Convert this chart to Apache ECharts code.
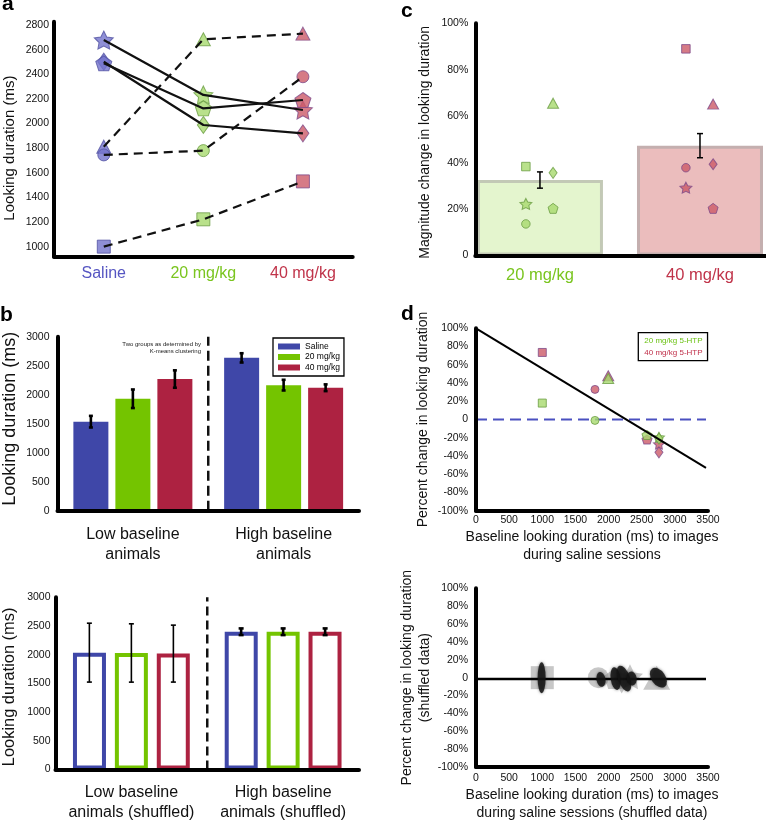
<!DOCTYPE html>
<html><head><meta charset="utf-8">
<script src="https://cdn.jsdelivr.net/npm/echarts@6/dist/echarts.min.js"></script>
<style>html,body{margin:0;padding:0;background:#fff;}#c{width:766px;height:823px;}</style>
</head><body><div id="c"></div>
<script>
const FONT = 'Liberation Sans, Arial, Helvetica, sans-serif';

// ================= DATA =================
const groups = ['Saline', '20 mg/kg', '40 mg/kg'];
const shapes = ['star', 'diamond', 'pentagon', 'triangle', 'circle', 'square'];

// panel a : looking duration (ms) of each animal (by shape)
const aSaline = [2678, 2502, 2489, 1812, 1745, 1000];
const a20     = [2232, 1988, 2123, 2684, 1780, 1222];
const a40     = [2110, 1920, 2191, 2730, 2380, 1530];
const aYTicks = [1000, 1200, 1400, 1600, 1800, 2000, 2200, 2400, 2600, 2800];

// panel c : magnitude change (%)
const cCategories = ['20 mg/kg', '40 mg/kg'];
const cMeans = [32.5, 47.3];
const cSem   = [3.5, 5.2];
const c20 = [22.2, 35.6, 20.3, 65.6, 13.6, 38.3];
const c40 = [29.2, 39.3, 20.3, 65.2, 37.8, 89.0];

// panel b : group means (ms)
const bCategories = ['Low baseline\nanimals', 'High baseline\nanimals'];
const bSaline = [1535, 2635], bSalineErr = [100, 80];
const b20     = [1930, 2165], b20Err     = [160, 92];
const b40     = [2270, 2120], b40Err     = [150, 58];
const bsCategories = ['Low baseline\nanimals (shuffled)', 'High baseline\nanimals (shuffled)'];
const bsSaline = [2036, 2400], bsSalineErr = [513, 58];
const bs20     = [2030, 2400], bs20Err     = [508, 58];
const bs40     = [2019, 2400], bs40Err     = [496, 58];

// panel d : baseline (ms) vs percent change
const dBaseline = [2760, 2760, 2580, 1995, 1795, 1000];
const d20 = [-19.5, -21, -17, 45, -1, 18];
const d40 = [-27, -36, -22, 48, 33, 73.5];
const dFit  = [[0, 100], [3470, -53]];
const dZero = [[0, 0], [3470, 0]];
// panel d (shuffled)
const dsShapes = ['square', 'circle', 'pentagon', 'diamond', 'star', 'triangle'];
const dsShapeX = [1000, 1845, 2097, 2198, 2323, 2726];
const dsShapeY = [0, 0, -1, -2, 1, 0];
const dsBlobX  = [990, 1886, 2107, 2233, 2349, 2751];
const dsBlobY  = [0, -2, -1, -1, -1, 0];
const dsFit = [[0, -1.5], [3470, -1.5]];

// ================= STYLE =================
const COL = {
  fill:   ['#7373cc', '#a8da6e', '#cc5a68'],
  border: ['#5252a3', '#6b9e44', '#7e4b8a'],
  bar:    ['#3f47a8', '#74c400', '#ad2241'],
  label:  ['#5555c2', '#7ac51f', '#c0344a']
};
const STAR = 'path://M0,-10L2.94,-4.05L9.51,-3.09L4.76,1.55L5.88,8.09L0,5L-5.88,8.09L-4.76,1.55L-9.51,-3.09L-2.94,-4.05Z';
const PENT = 'path://M0,-10L9.51,-3.09L5.88,8.09L-5.88,8.09L-9.51,-3.09Z';
const SYMBOL = {star: STAR, diamond: 'diamond', pentagon: PENT, triangle: 'triangle', circle: 'circle', square: 'rect'};
const SIZE_A = {star: [19, 18], diamond: [12, 17], pentagon: [16, 15], triangle: [14, 13], circle: 12, square: 13};
const SIZE_C = {star: [12, 11], diamond: [8, 11], pentagon: [10, 10], triangle: [11, 10], circle: 8.5, square: 8.5};
const SIZE_D = {star: [11, 10], diamond: [8, 11], pentagon: [10, 9], triangle: [11, 10], circle: 8, square: 8};
const SIZE_DS = {square: [23, 23], circle: [21, 21], pentagon: [22, 21], diamond: [16, 28], star: [26, 25], triangle: [27, 24]};
const C_COL_OFFSET = {star: -0.088, circle: -0.088, square: -0.088, triangle: 0.082, diamond: 0.082, pentagon: 0.082};
const A_DASHED = {triangle: true, circle: true, square: true};
const C_BAR_STYLE = [
  {color: '#e4f5ce', borderColor: '#c3c9b6', borderWidth: 3},
  {color: '#ebbdbd', borderColor: '#c4afaf', borderWidth: 3}
];
const BLOB_STYLE = [
  {size: [8, 31], rot: 0}, {size: [9, 15], rot: 10}, {size: [10, 23], rot: 8},
  {size: [12, 27], rot: 20}, {size: [10, 14], rot: 10}, {size: [14, 22], rot: 35}
];

const AXLINE = {show: true, onZero: false, lineStyle: {color: '#000', width: 4}};
const plainFmt = v => String(v);
const TICKLBL = {fontSize: 10.5, color: '#111', fontFamily: FONT, formatter: plainFmt};

function errRender(offsetPx, capHalf) {
  return function (params, api) {
    const x = api.value(0), lo = api.value(1), hi = api.value(2);
    const pLo = api.coord([x, lo]), pHi = api.coord([x, hi]);
    const cx = pLo[0] + offsetPx;
    const w = (pLo[1] - pHi[1]) > 30 ? 1.6 : 2.6;
    const st = {stroke: '#000', lineWidth: w};
    return {type: 'group', children: [
      {type: 'line', shape: {x1: cx, y1: pLo[1], x2: cx, y2: pHi[1]}, style: st},
      {type: 'line', shape: {x1: cx - capHalf, y1: pLo[1], x2: cx + capHalf, y2: pLo[1]}, style: st},
      {type: 'line', shape: {x1: cx - capHalf, y1: pHi[1], x2: cx + capHalf, y2: pHi[1]}, style: st}
    ]};
  };
}

const series = [];

// ----- panel a -----
const aVals = [aSaline, a20, a40];
groups.forEach((g, gi) => {
  series.push({
    type: 'scatter', name: 'a-' + g, xAxisIndex: 0, yAxisIndex: 0, z: 2,
    itemStyle: {color: COL.fill[gi], borderColor: COL.border[gi], borderWidth: 1},
    data: shapes.map((s, i) => ({value: [gi, aVals[gi][i]], symbol: SYMBOL[s], symbolSize: SIZE_A[s]}))
  });
});
shapes.forEach((s, i) => {
  series.push({
    type: 'line', name: 'a-line-' + s, xAxisIndex: 0, yAxisIndex: 0, z: 3,
    symbol: 'none',
    lineStyle: {color: '#111', width: 2.2, type: A_DASHED[s] ? [9, 6] : 'solid'},
    data: [[0, aSaline[i]], [1, a20[i]], [2, a40[i]]]
  });
});

// ----- panel c -----
series.push({
  type: 'bar', name: 'c-bars', xAxisIndex: 1, yAxisIndex: 1, barWidth: 126, z: 1,
  data: cMeans.map((m, i) => ({value: [i + 1, m], itemStyle: C_BAR_STYLE[i]}))
});
series.push({
  type: 'custom', name: 'c-err', xAxisIndex: 1, yAxisIndex: 1, z: 4,
  renderItem: function (p, api) {
    const x = api.value(0), lo = api.value(1), hi = api.value(2);
    const a = api.coord([x, lo]), b = api.coord([x, hi]);
    const st = {stroke: '#000', lineWidth: 1.5};
    return {type: 'group', children: [
      {type: 'line', shape: {x1: a[0], y1: a[1], x2: b[0], y2: b[1]}, style: st},
      {type: 'line', shape: {x1: a[0] - 3, y1: a[1], x2: a[0] + 3, y2: a[1]}, style: st},
      {type: 'line', shape: {x1: b[0] - 3, y1: b[1], x2: b[0] + 3, y2: b[1]}, style: st}
    ]};
  },
  encode: {x: 0, y: [1, 2]},
  data: cMeans.map((m, i) => [i + 1, m - cSem[i], m + cSem[i]])
});
[c20, c40].forEach((vals, k) => {
  series.push({
    type: 'scatter', name: 'c-' + cCategories[k], xAxisIndex: 1, yAxisIndex: 1, z: 3,
    itemStyle: {color: COL.fill[k + 1], borderColor: COL.border[k + 1], borderWidth: 1},
    data: shapes.map((s, i) => ({value: [k + 1 + C_COL_OFFSET[s], vals[i]], symbol: SYMBOL[s], symbolSize: SIZE_C[s]}))
  });
});

// ----- panel b (top) -----
const bTop = [bSaline, b20, b40], bTopErr = [bSalineErr, b20Err, b40Err];
groups.forEach((g, k) => {
  series.push({
    type: 'bar', name: g, xAxisIndex: 2, yAxisIndex: 2, barWidth: 35, barGap: '20%',
    itemStyle: {color: COL.bar[k]}, data: bTop[k]
  });
});
groups.forEach((g, k) => {
  series.push({
    type: 'custom', name: 'b-err-' + g, xAxisIndex: 2, yAxisIndex: 2, z: 4,
    renderItem: errRender((k - 1) * 42, 2), encode: {x: 0, y: [1, 2]},
    data: bTop[k].map((m, i) => [i, m - bTopErr[k][i], m + bTopErr[k][i]])
  });
});
series.push({
  type: 'line', name: 'b-divider', xAxisIndex: 3, yAxisIndex: 2, symbol: 'none',
  lineStyle: {color: '#111', width: 2.5, type: [10, 5]}, data: [[1, 0], [1, 3000]]
});

// ----- panel b (bottom, shuffled) -----
const bBot = [bsSaline, bs20, bs40], bBotErr = [bsSalineErr, bs20Err, bs40Err];
groups.forEach((g, k) => {
  series.push({
    type: 'bar', name: g + ' (shuffled)', xAxisIndex: 4, yAxisIndex: 3, barWidth: 33, barGap: '27%',
    itemStyle: {color: '#fff', borderColor: COL.bar[k], borderWidth: 4}, data: bBot[k]
  });
});
groups.forEach((g, k) => {
  series.push({
    type: 'custom', name: 'bs-err-' + g, xAxisIndex: 4, yAxisIndex: 3, z: 4,
    renderItem: errRender((k - 1) * 42, 2.5), encode: {x: 0, y: [1, 2]},
    data: bBot[k].map((m, i) => [i, m - bBotErr[k][i], m + bBotErr[k][i]])
  });
});
series.push({
  type: 'line', name: 'bs-divider', xAxisIndex: 5, yAxisIndex: 3, symbol: 'none',
  lineStyle: {color: '#111', width: 2.5, type: [9, 5]}, data: [[1, 0], [1, 3000]]
});

// ----- panel d (top) -----
series.push({
  type: 'line', name: 'd-zero', xAxisIndex: 6, yAxisIndex: 4, symbol: 'none', z: 1,
  lineStyle: {color: '#4a50c0', width: 2, type: [11, 6]}, data: dZero
});
series.push({
  type: 'line', name: 'd-fit', xAxisIndex: 6, yAxisIndex: 4, symbol: 'none', z: 4,
  lineStyle: {color: '#000', width: 2}, data: dFit
});
[['40 mg/kg 5-HTP', d40, 2], ['20 mg/kg 5-HTP', d20, 1]].forEach(([nm, vals, gi]) => {
  series.push({
    type: 'scatter', name: nm, xAxisIndex: 6, yAxisIndex: 4, z: 3,
    itemStyle: {color: COL.fill[gi], borderColor: COL.border[gi], borderWidth: 1},
    data: shapes.map((s, i) => ({value: [dBaseline[i], vals[i]], symbol: SYMBOL[s], symbolSize: SIZE_D[s]}))
  });
});

// ----- panel d (bottom, shuffled) -----
series.push({
  type: 'scatter', name: 'ds-shapes', xAxisIndex: 7, yAxisIndex: 5, z: 2,
  itemStyle: {color: '#8f8f8f', opacity: 0.5},
  data: dsShapes.map((s, i) => ({value: [dsShapeX[i], dsShapeY[i]], symbol: SYMBOL[s], symbolSize: SIZE_DS[s]}))
});
series.push({
  type: 'line', name: 'ds-fit', xAxisIndex: 7, yAxisIndex: 5, symbol: 'none', z: 3,
  lineStyle: {color: '#000', width: 2.5}, data: dsFit
});
series.push({
  type: 'scatter', name: 'ds-blobs', xAxisIndex: 7, yAxisIndex: 5, z: 4,
  itemStyle: {color: '#141414', opacity: 0.85, shadowBlur: 3, shadowColor: 'rgba(0,0,0,0.6)'},
  data: dsBlobX.map((x, i) => ({value: [x, dsBlobY[i]], symbol: 'circle', symbolSize: BLOB_STYLE[i].size, symbolRotate: BLOB_STYLE[i].rot}))
});

const pctFmt = v => v === 0 ? '0' : v + '%';
const catLbl = {fontSize: 16, color: '#111', fontFamily: FONT, lineHeight: 20, margin: 13.5, interval: 0, hideOverlap: false};

const option = {
  animation: false,
  backgroundColor: '#fff',
  textStyle: {fontFamily: FONT},
  grid: [
    {left: 54, top: 21.7, width: 298.7, height: 234.8},
    {left: 475.3, top: 23.3, width: 290.7, height: 232.2},
    {left: 57, top: 336.7, width: 302, height: 174},
    {left: 55.5, top: 597.3, width: 303.5, height: 173.4},
    {left: 476, top: 328.3, width: 232, height: 182.4},
    {left: 476, top: 588.3, width: 232, height: 182.4}
  ],
  xAxis: [
    {gridIndex: 0, type: 'category', data: groups, boundaryGap: true, axisLine: AXLINE, axisTick: {show: false}, z: 5,
      axisLabel: {margin: 9.5, interval: 0, formatter: (v, i) => '{g' + i + '|' + v + '}',
        rich: {g0: {color: COL.label[0], fontSize: 16, fontFamily: FONT},
               g1: {color: COL.label[1], fontSize: 16, fontFamily: FONT},
               g2: {color: COL.label[2], fontSize: 16, fontFamily: FONT}}}},
    {gridIndex: 1, type: 'value', min: 0.596, max: 2.4125, axisLine: AXLINE, axisTick: {show: false}, splitLine: {show: false}, z: 5,
      axisLabel: {customValues: [1, 2], margin: 11.5,
        formatter: v => '{g' + Math.round(v) + '|' + cCategories[Math.round(v) - 1] + '}',
        rich: {g1: {color: COL.label[1], fontSize: 16.5, fontFamily: FONT},
               g2: {color: COL.label[2], fontSize: 16.5, fontFamily: FONT}}}},
    {gridIndex: 2, type: 'category', data: bCategories, axisLine: AXLINE, axisTick: {show: false}, z: 5, axisLabel: catLbl},
    {gridIndex: 2, type: 'value', min: 0, max: 2, show: false},
    {gridIndex: 3, type: 'category', data: bsCategories, axisLine: AXLINE, axisTick: {show: false}, z: 5, axisLabel: catLbl},
    {gridIndex: 3, type: 'value', min: 0, max: 2, show: false},
    {gridIndex: 4, type: 'value', min: 0, max: 3500, interval: 500, axisLine: AXLINE, axisTick: {show: false}, splitLine: {show: false}, z: 5,
      axisLabel: Object.assign({}, TICKLBL, {margin: 4}),
      name: 'Baseline looking duration (ms) to images\nduring saline sessions', nameLocation: 'middle', nameGap: 17,
      nameTextStyle: {fontSize: 14, lineHeight: 18, color: '#111', fontFamily: FONT}},
    {gridIndex: 5, type: 'value', min: 0, max: 3500, interval: 500, axisLine: AXLINE, axisTick: {show: false}, splitLine: {show: false}, z: 5,
      axisLabel: Object.assign({}, TICKLBL, {margin: 5.5}),
      name: 'Baseline looking duration (ms) to images\nduring saline sessions (shuffled data)', nameLocation: 'middle', nameGap: 19,
      nameTextStyle: {fontSize: 14, lineHeight: 18, color: '#111', fontFamily: FONT}}
  ],
  yAxis: [
    {gridIndex: 0, type: 'value', min: 920, max: 2827, axisLine: AXLINE, axisTick: {show: false}, splitLine: {show: false}, z: 5,
      axisLabel: Object.assign({}, TICKLBL, {customValues: aYTicks, margin: 5}),
      name: 'Looking duration (ms)', nameLocation: 'middle', nameGap: 37,
      nameTextStyle: {fontSize: 15, color: '#111', fontFamily: FONT, padding: [0, 18, 0, 0]}},
    {gridIndex: 1, type: 'value', min: 0, max: 100, interval: 20, axisLine: AXLINE, axisTick: {show: false}, splitLine: {show: false}, z: 5,
      axisLabel: Object.assign({}, TICKLBL, {margin: 7, formatter: pctFmt}),
      name: 'Magnitude change in looking duration', nameLocation: 'middle', nameGap: 43,
      nameTextStyle: {fontSize: 14, color: '#111', fontFamily: FONT, padding: [0, 6, 0, 0]}},
    {gridIndex: 2, type: 'value', min: 0, max: 3000, interval: 500, axisLine: AXLINE, axisTick: {show: false}, splitLine: {show: false}, z: 5,
      axisLabel: Object.assign({}, TICKLBL, {margin: 8}),
      name: 'Looking duration (ms)', nameLocation: 'middle', nameGap: 38.5,
      nameTextStyle: {fontSize: 18, color: '#111', fontFamily: FONT, padding: [0, 0, 0, 10]}},
    {gridIndex: 3, type: 'value', min: 0, max: 3000, interval: 500, axisLine: AXLINE, axisTick: {show: false}, splitLine: {show: false}, z: 5,
      axisLabel: Object.assign({}, TICKLBL, {margin: 5}),
      name: 'Looking duration (ms)', nameLocation: 'middle', nameGap: 38,
      nameTextStyle: {fontSize: 16.4, color: '#111', fontFamily: FONT, padding: [0, 7, 0, 0]}},
    {gridIndex: 4, type: 'value', min: -100, max: 100, interval: 20, axisLine: AXLINE, axisTick: {show: false}, splitLine: {show: false}, z: 5,
      axisLabel: Object.assign({}, TICKLBL, {margin: 8, formatter: pctFmt}),
      name: 'Percent change in looking duration', nameLocation: 'middle', nameGap: 46,
      nameTextStyle: {fontSize: 14, color: '#111', fontFamily: FONT}},
    {gridIndex: 5, type: 'value', min: -100, max: 100, interval: 20, axisLine: AXLINE, axisTick: {show: false}, splitLine: {show: false}, z: 5,
      axisLabel: Object.assign({}, TICKLBL, {margin: 8, formatter: pctFmt}),
      name: 'Percent change in looking duration\n(shuffled data)', nameLocation: 'middle', nameGap: 34,
      nameTextStyle: {fontSize: 14, lineHeight: 18, color: '#111', fontFamily: FONT}}
  ],
  legend: [
    {data: groups, orient: 'vertical', left: 273, top: 338, padding: [4, 4, 4, 5], itemGap: 1.5,
      itemWidth: 22, itemHeight: 6, icon: 'rect', borderColor: '#000', borderWidth: 1.3, selectedMode: false,
      textStyle: {fontSize: 8.5, color: '#000', fontFamily: FONT}},
    {data: [{name: '20 mg/kg 5-HTP', textStyle: {color: '#6cc214'}}, {name: '40 mg/kg 5-HTP', textStyle: {color: '#c0304a'}}],
      orient: 'vertical', left: 638.3, top: 332.7, padding: [4, 5, 4, 1], itemGap: 4,
      itemWidth: 0, itemHeight: 8, icon: 'none', borderColor: '#000', borderWidth: 1.3, selectedMode: false,
      textStyle: {fontSize: 8, fontFamily: FONT}}
  ],
  graphic: [
    {type: 'text', x: 2, y: 4.4, style: {text: 'a', font: 'bold 21px ' + FONT, fill: '#000', verticalAlign: 'middle'}},
    {type: 'text', x: 401, y: 11, style: {text: 'c', font: 'bold 21px ' + FONT, fill: '#000', verticalAlign: 'middle'}},
    {type: 'text', x: 0, y: 315.4, style: {text: 'b', font: 'bold 21px ' + FONT, fill: '#000', verticalAlign: 'middle'}},
    {type: 'text', x: 401, y: 314.4, style: {text: 'd', font: 'bold 21px ' + FONT, fill: '#000', verticalAlign: 'middle'}},
    {type: 'text', x: 201, y: 340.6, style: {text: 'Two groups as determined by\nK-means clustering', font: '6px ' + FONT,
      fill: '#222', align: 'right', verticalAlign: 'top', lineHeight: 7.4}}
  ],
  series: series
};

const chart = echarts.init(document.getElementById('c'), null, {renderer: 'canvas'});
chart.setOption(option);
</script>
</body></html>
